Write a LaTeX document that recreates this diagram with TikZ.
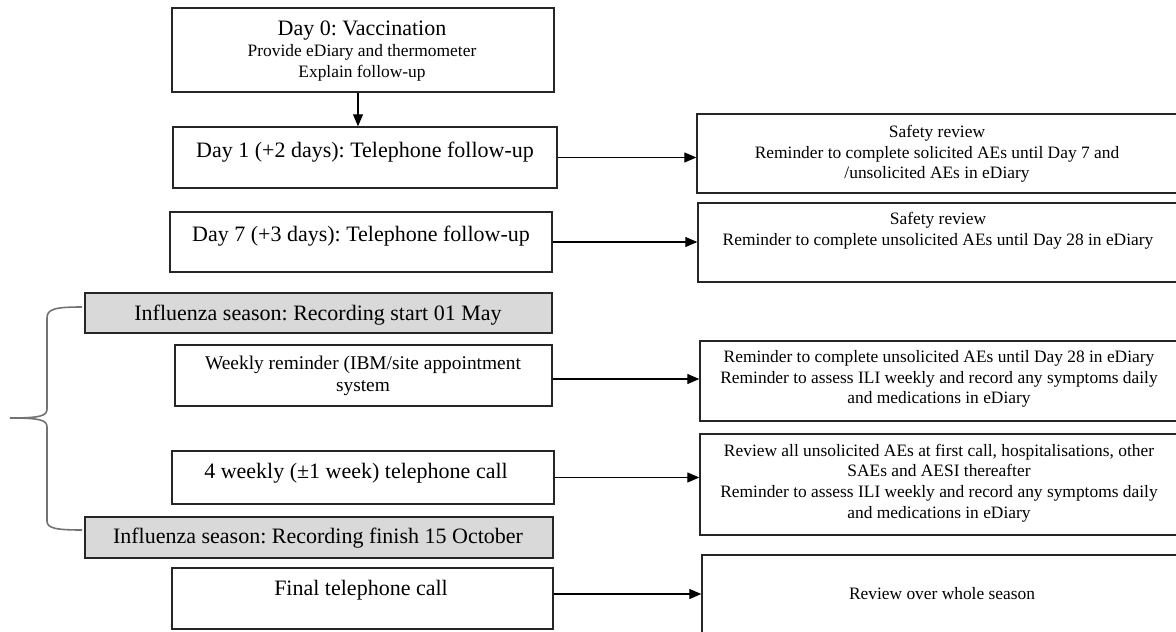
\documentclass[tikz,border=0pt]{standalone}
\usepackage{fontspec}
\setmainfont{Liberation Serif}
\usetikzlibrary{arrows.meta,fit}
\frenchspacing

\tikzset{
  box/.style={draw=black!85, line width=0.7pt, inner sep=0pt},
  greybox/.style={box, fill=gray!30},
  big/.style={font=\fontsize{11}{13}\selectfont, align=center},
  mid/.style={font=\fontsize{9.7}{11}\selectfont, align=center},
  small/.style={font=\fontsize{8.7}{10.3}\selectfont, align=center},
  arr/.style={-{Triangle[length=6pt,width=5pt]}, line width=0.6pt}
}

\begin{document}
\begin{tikzpicture}[x=0.5pt,y=-0.5pt]
\clip (0,0) rectangle (1176,631);
% left column
\node[box, fit={(172,8) (554,92)}] (d0) {};
\node[small] (d0t) at (362,51) {{\fontsize{11}{13}\selectfont Day 0: Vaccination}\\Provide eDiary and thermometer\\Explain follow-up};
\node[box, fit={(173,127) (557,188)}] (d1) {};
\node[big] (d1t) at (365,152) {Day 1 (+2 days): Telephone follow-up};
\node[box, fit={(170,212) (552,272)}] (d2) {};
\node[big] (d2t) at (361,236) {Day 7 (+3 days): Telephone follow-up};
\node[greybox, fit={(85,293) (552,333)}] (ga) {};
\node[big] (gat) at (318,315) {Influenza season: Recording start 01 May};
\node[box, fit={(175,345) (552,406)}] (d3) {};
\node[mid] (d3t) at (363,376) {Weekly reminder (IBM/site appointment\\system};
\node[box, fit={(172,451) (554,504)}] (d4) {};
\node[big] (d4t) at (356,473) {4 weekly (±1 week) telephone call};
\node[greybox, fit={(85,517) (553,558)}] (gb) {};
\node[big] (gbt) at (318,538) {Influenza season: Recording finish 15 October};
\node[box, fit={(172,568) (553,629)}] (d5) {};
\node[big] (d5t) at (361,590) {Final telephone call};
% right column
\node[box, fit={(697,114) (1178,193)}] (r1) {};
\node[small] (r1t) at (937,154) {Safety review\\Reminder to complete solicited AEs until Day 7 and\\/unsolicited AEs in eDiary};
\node[box, fit={(698,203) (1178,282)}] (r2) {};
\node[small] (r2t) at (938,231) {Safety review\\Reminder to complete unsolicited AEs until Day 28 in eDiary};
\node[box, fit={(700,341) (1178,421)}] (r3) {};
\node[small] (r3t) at (939,379) {Reminder to complete unsolicited AEs until Day 28 in eDiary\\Reminder to assess ILI weekly and record any symptoms daily\\and medications in eDiary};
\node[box, fit={(700,434) (1178,535)}] (r4) {};
\node[small] (r4t) at (939,483) {Review all unsolicited AEs at first call, hospitalisations, other\\SAEs and AESI thereafter\\Reminder to assess ILI weekly and record any symptoms daily\\and medications in eDiary};
\node[box, fit={(702,555) (1182,640)}] (r5) {};
\node[small] (r5t) at (942,594) {Review over whole season};
% arrows
\draw[arr] ([xshift=-2.5pt]d0.south) -- ([xshift=-2.5pt]d0.south |- d1.north);
\draw[arr] (d1.east) -- (d1.east -| r1.west);
\draw[arr] (d2.east) -- (d2.east -| r2.west);
\draw[arr] ([yshift=-1.75pt]d3.east) -- ([yshift=-1.75pt]d3.east -| r3.west);
\draw[arr] (d4.east) -- (d4.east -| r4.west);
\draw[arr] ([yshift=2.25pt]d5.east) -- ([yshift=2.25pt]d5.east -| r5.west);
% brace for the season
\draw[black!55, line width=0.8pt] (82,307) .. controls (55,307) and (47,309) .. (47,318) -- (47,409)
  .. controls (47,416) and (40,418) .. (10,418) .. controls (40,418) and (47,420) .. (47,427)
  -- (47,521) .. controls (47,528) and (55,530) .. (82,530);
\end{tikzpicture}
\end{document}
